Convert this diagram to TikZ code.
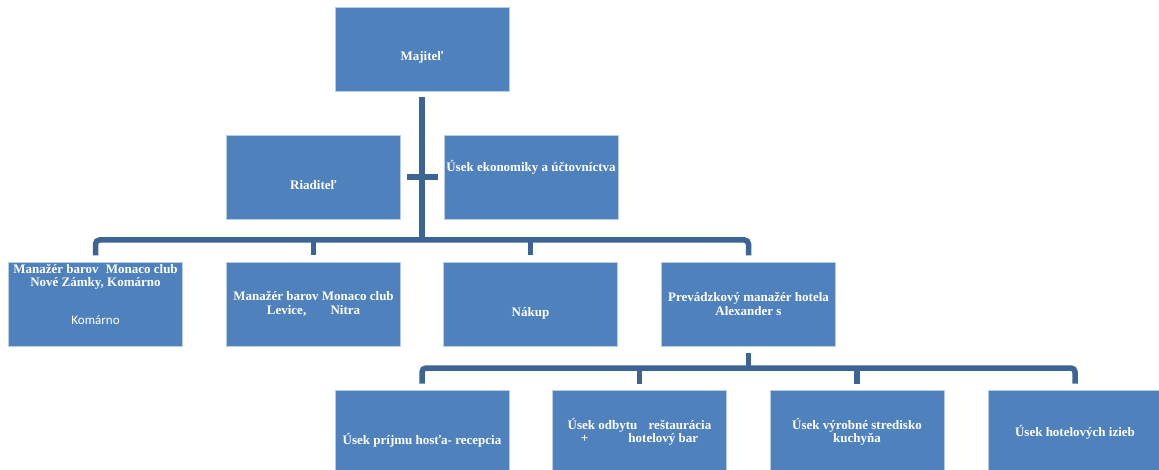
\documentclass[tikz,border=0pt]{standalone}
\usepackage{fontspec}
\setmainfont{Liberation Serif}
\newfontfamily\calib{Carlito}
\definecolor{boxblue}{HTML}{4F81BD}
\definecolor{boxedge}{HTML}{B9CDE5}
\definecolor{linkblue}{HTML}{3C6495}
\begin{document}
\begin{tikzpicture}[x=1pt,y=-1pt,
 box/.style={rectangle, fill=boxblue, draw=boxedge, line width=0.6pt, minimum width=174pt, minimum height=84pt, inner sep=0pt, outer sep=6.5pt},
 lbl/.style={text=white, font=\bfseries\fontsize{13}{13.5}\selectfont, align=center, inner sep=0pt},
 sub/.style={text=white, font=\calib\fontsize{13}{14}\selectfont, inner sep=0pt},
 conn/.style={draw=linkblue, line width=5.5pt}]
\useasboundingbox (0,0) rectangle (1159,470);
\clip (0,0) rectangle (1159,470);

% level 0/1
\node[box, label={[lbl,yshift=-8pt]center:Majiteľ}] (maj) at (422,49) {};
\node[box, label={[lbl,yshift=-8pt]center:Riaditeľ}] (riad) at (313.5,177) {};
\node[box, label={[lbl,yshift=10pt]center:Úsek ekonomiky a účtovníctva}] (uek) at (531,177) {};

% level 2
\node[box, label={[lbl,yshift=27pt]center:{Manažér barov\hspace{4pt} Monaco club\\Nové Zámky, Komárno}},
 label={[sub,yshift=-16pt]center:Komárno}] (m1) at (95.5,304) {};
\node[box, label={[lbl]center:{Manažér barov Monaco club\\Levice,\hspace{21pt} Nitra}}] (m2) at (313.5,304) {};
\node[box, label={[lbl,yshift=-9pt]center:Nákup}] (nak) at (530.5,304) {};
\node[box, label={[lbl]center:{Prevádzkový manažér hotela\\Alexander s}}] (prev) at (748.5,304) {};

% level 3
\node[box, label={[lbl,yshift=-8pt]center:Úsek príjmu hosťa- recepcia}] (u1) at (422,432) {};
\node[box, label={[lbl]center:{Úsek odbytu\hspace{8pt} reštaurácia\\+\hspace{37pt} hotelový bar}}] (u2) at (639.5,432) {};
\node[box, label={[lbl]center:{Úsek výrobné stredisko\\kuchyňa}}] (u3) at (857,432) {};
\node[box, label={[lbl]center:Úsek hotelových izieb}] (u4) at (1075,432) {};

% connectors
\coordinate (bus1) at (422,242);
\coordinate (bus1h) at (422,240);
\coordinate (bus2) at (748.5,368);

\draw[conn] (maj) -- (bus1);
\draw[conn] (riad) -- (uek);
\draw[conn, rounded corners=4pt] (m1) |- (bus1h) -| (prev);
\draw[conn] (m2) -- (m2 |- bus1h);
\draw[conn] (nak) -- (nak |- bus1h);

\draw[conn] (prev) -- (bus2);
\draw[conn, rounded corners=4pt] (u1) |- (bus2) -| (u4);
\draw[conn] (u2) -- (u2 |- bus2);
\draw[conn] (u3) -- (u3 |- bus2);
\end{tikzpicture}
\end{document}
